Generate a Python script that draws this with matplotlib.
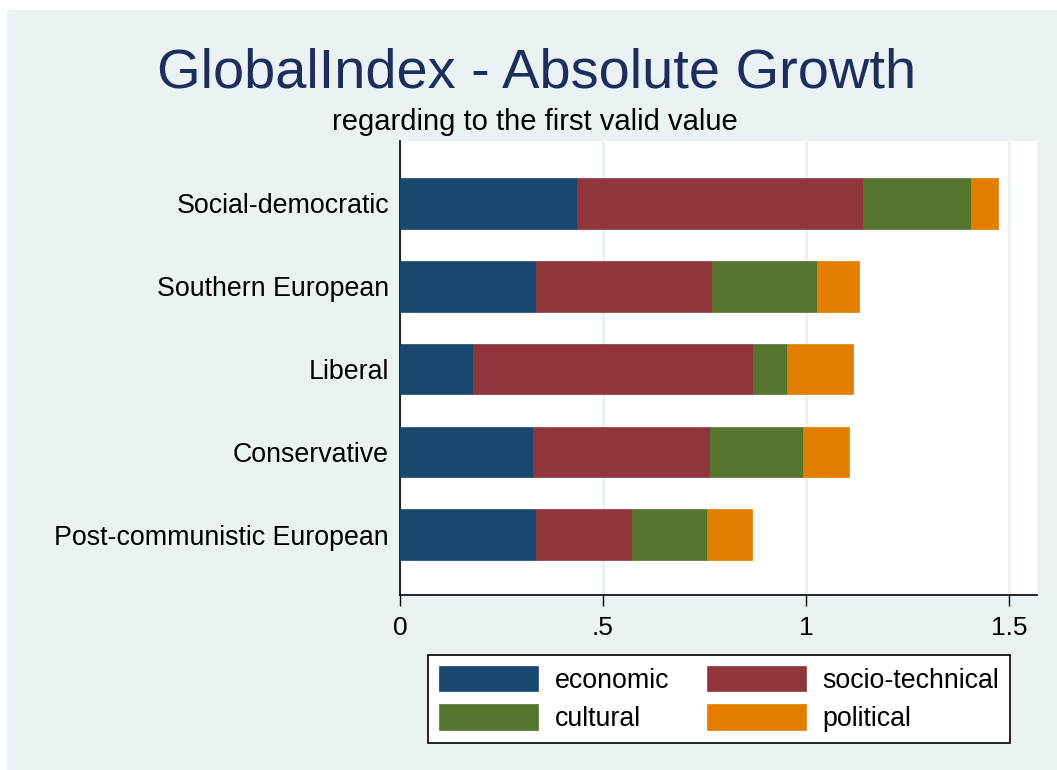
#
# Stacked horizontal bars of the GlobalIndex absolute growth
#

# Dependencies
import numpy as np
import matplotlib
matplotlib.use("Agg")
import matplotlib.pyplot as plt
from matplotlib.patches import Rectangle

# Data
regimes = ["Social-democratic", "Southern European", "Liberal",
           "Conservative", "Post-communistic European"]
economic = [0.436, 0.335, 0.180, 0.328, 0.334]
socioTechnical = [0.704, 0.433, 0.689, 0.436, 0.238]
cultural = [0.267, 0.259, 0.084, 0.228, 0.184]
political = [0.067, 0.103, 0.163, 0.114, 0.110]
components = ["economic", "socio-technical", "cultural", "political"]
xTicks = [0, 0.5, 1, 1.5]
xTickLabels = ["0", ".5", "1", "1.5"]

# Stata s2color look
colours = ["#1A476F", "#90353B", "#55752F", "#E37E00"]
bgColour = "#EAF2F3"
plt.rcParams["font.family"] = ["Liberation Sans", "DejaVu Sans"]

W, H = 1057, 770
fig = plt.figure(figsize=(W / 100, H / 100), dpi=100, facecolor="white")
# light background with a thin white margin on the left and top
fig.patches.append(Rectangle((7 / W, 0), 1 - 7 / W, 1 - 10 / H,
                             transform=fig.transFigure, facecolor=bgColour,
                             edgecolor="none", zorder=-10))

ax = fig.add_axes([400 / W, 1 - 595 / H, 637 / W, 454 / H])
ax.set_facecolor("white")

# Draw stacked bars
y = np.arange(len(regimes))
left = np.zeros(len(regimes))
handles = []
for values, name, colour in zip([economic, socioTechnical, cultural, political],
                                components, colours):
    bars = ax.barh(y, values, left=left, height=0.61, color=colour, label=name,
                   edgecolor=colour, linewidth=0.5, zorder=3)
    handles.append(bars)
    left = left + np.array(values)

# Axes
ax.set_xlim(0, 1.569)
ax.set_ylim(4.73, -0.755)
ax.set_xticks(xTicks)
ax.set_xticklabels(xTickLabels, fontsize=19)
ax.set_yticks(y)
ax.set_yticklabels(regimes, fontsize=19.3)
ax.tick_params(axis="x", length=8, width=1, pad=7, colors="black")
ax.tick_params(axis="y", length=0, pad=8)
ax.xaxis.grid(True, color=bgColour, linewidth=2, zorder=0)
ax.set_axisbelow(True)
for side in ["top", "right"]:
    ax.spines[side].set_visible(False)
for side in ["left", "bottom"]:
    ax.spines[side].set_color("black")
    ax.spines[side].set_linewidth(1.2)

# Titles
fig.text(537 / W, 1 - 88 / H, "GlobalIndex - Absolute Growth", fontsize=40.3,
         color="#1F2D5C", ha="center", va="baseline")
fig.text(535 / W, 1 - 130 / H, "regarding to the first valid value",
         fontsize=21, color="black", ha="center", va="baseline")

# Legend, filled row by row: economic, socio-technical / cultural, political
order = [0, 2, 1, 3]
leg = fig.legend([handles[i] for i in order], [components[i] for i in order],
                 loc="upper center", bbox_to_anchor=(719 / W, 1 - 655 / H),
                 bbox_transform=fig.transFigure, ncol=2, fontsize=19.3,
                 frameon=True, fancybox=False, edgecolor="black", framealpha=1,
                 handlelength=3.7, handleheight=1.1, handletextpad=0.63,
                 columnspacing=1.4, labelspacing=0.38, borderpad=0.4,
                 borderaxespad=0)
leg.get_frame().set_linewidth(1.2)

fig.savefig("out.png", dpi=100, facecolor=fig.get_facecolor())
